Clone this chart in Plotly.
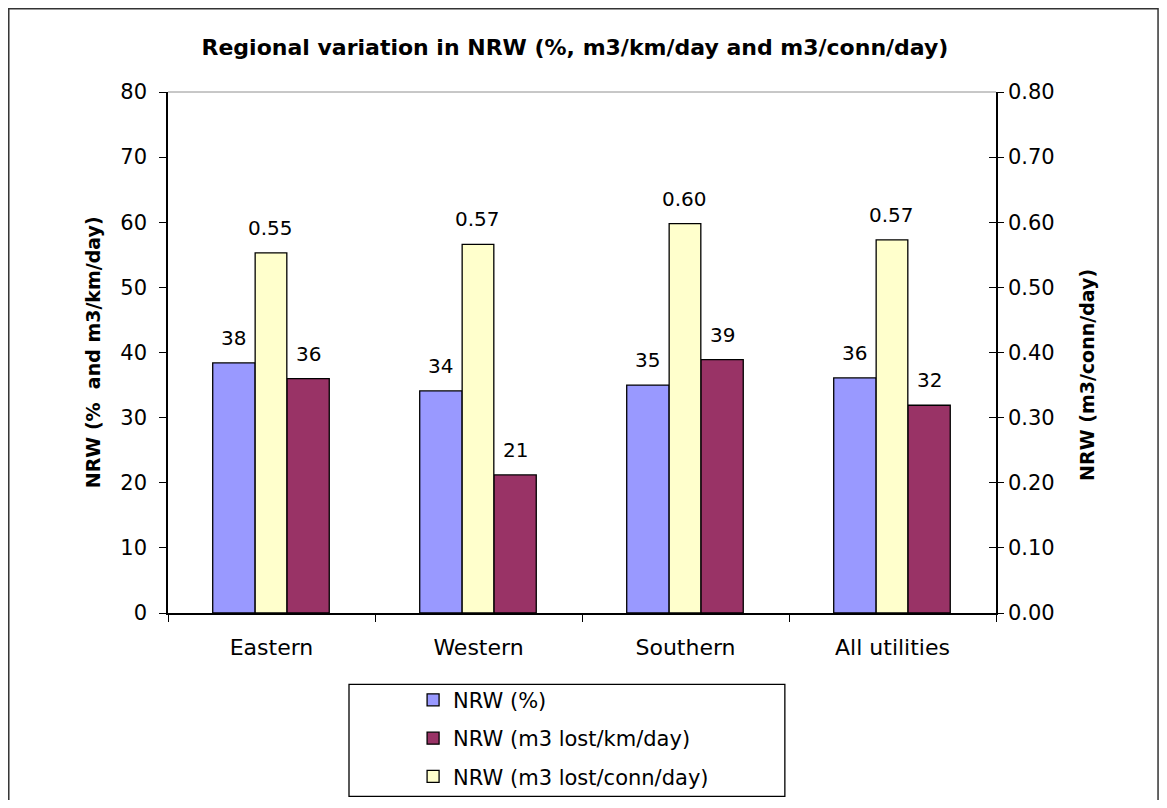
import plotly.graph_objects as go

# Data
regions = ["Eastern", "Western", "Southern", "All utilities"]
nrw_pct = [38.4, 34.1, 35.0, 36.1]          # NRW (%), left axis
nrw_km = [36.0, 21.2, 38.9, 31.9]           # NRW (m3 lost/km/day), left axis
nrw_conn = [0.553, 0.566, 0.598, 0.573]     # NRW (m3 lost/conn/day), right axis

left_ticks = [0, 10, 20, 30, 40, 50, 60, 70, 80]
right_ticks = [0.0, 0.1, 0.2, 0.3, 0.4, 0.5, 0.6, 0.7, 0.8]

BLUE = "#9999FF"
MAROON = "#993366"
YELLOW = "#FFFFCC"
FONT = "DejaVu Sans, Arial, sans-serif"

# bar layout within each category (in category units)
OFF_PCT, W_PCT = -0.284, 0.205
OFF_CONN, W_CONN = -0.079, 0.153
OFF_KM, W_KM = 0.074, 0.205

fig = go.Figure()
fig.add_trace(go.Bar(x=regions, y=nrw_pct, name="NRW (%)", width=W_PCT, offset=OFF_PCT,
                     marker=dict(color=BLUE, line=dict(color="black", width=1.3)),
                     yaxis="y", legendgroup="a"))
fig.add_trace(go.Bar(x=regions, y=nrw_km, name="NRW (m3 lost/km/day)", width=W_KM, offset=OFF_KM,
                     marker=dict(color=MAROON, line=dict(color="black", width=1.3)),
                     yaxis="y", legendgroup="b"))
fig.add_trace(go.Bar(x=regions, y=nrw_conn, name="NRW (m3 lost/conn/day)", width=W_CONN, offset=OFF_CONN,
                     marker=dict(color=YELLOW, line=dict(color="black", width=1.3)),
                     yaxis="y2", legendgroup="c"))

# data labels above the bars
lab_font = dict(size=20, color="black", family=FONT)
ann = []
for i, v in enumerate(nrw_pct):
    ann.append(dict(x=i + OFF_PCT + W_PCT / 2, y=v, yref="y", text=f"{v:.0f}",
                    showarrow=False, yshift=25, font=lab_font))
for i, v in enumerate(nrw_km):
    ann.append(dict(x=i + OFF_KM + W_KM / 2, y=v, yref="y", text=f"{v:.0f}",
                    showarrow=False, yshift=25, font=lab_font))
for i, v in enumerate(nrw_conn):
    ann.append(dict(x=i + OFF_CONN + W_CONN / 2, y=v, yref="y2", text=f"{v:.2f}",
                    showarrow=False, yshift=25, font=lab_font))

# axis titles
ann.append(dict(x=-0.106, y=0.501, xref="paper", yref="paper", text="<b>NRW (%  and m3/km/day)</b>",
                textangle=-90, showarrow=False, font=dict(size=19, color="black", family=FONT)))
ann.append(dict(x=1.1256, y=0.457, xref="paper", yref="paper", text="<b>NRW (m3/conn/day)</b>",
                textangle=-90, showarrow=False, font=dict(size=19, color="black", family=FONT)))

shapes = [
    # outer chart border
    dict(type="rect", xref="paper", yref="paper", x0=-0.1923, x1=1.1957, y0=-0.40, y1=1.160,
         line=dict(color="#333333", width=1.5)),
    # legend box
    dict(type="rect", xref="paper", yref="paper", x0=0.2186, x1=0.745, y0=-0.352, y1=-0.137,
         line=dict(color="black", width=1.3)),
    # gray top line of plot area
    dict(type="line", xref="paper", yref="paper", x0=0, x1=1, y0=1, y1=1,
         line=dict(color="#909090", width=1)),
]

fig.update_layout(
    width=1151, height=792,
    margin=dict(l=160, r=163, t=84, b=187, autoexpand=False),
    paper_bgcolor="white", plot_bgcolor="white",
    font=dict(family=FONT, size=21, color="black"),
    title=dict(text="<b>Regional variation in NRW (%, m3/km/day and m3/conn/day)</b>",
               x=0.4915, xref="paper", y=1 - 39 / 792, yanchor="middle",
               font=dict(size=22, color="black", family=FONT)),
    barmode="overlay",
    showlegend=True,
    legend=dict(x=0.296, y=-0.128, xanchor="left", yanchor="top", orientation="v",
                traceorder="grouped", tracegroupgap=8, bgcolor="rgba(0,0,0,0)",
                font=dict(size=21, color="black", family=FONT)),
    xaxis=dict(type="category", showline=True, linecolor="black", linewidth=1.5,
               ticks="outside", tickson="boundaries", ticklen=7, tickcolor="black",
               ticklabelstandoff=14, showgrid=False, range=[-0.5, 3.5],
               tickfont=dict(size=22)),
    yaxis=dict(range=[0, 80], tickvals=left_ticks, showline=True, linecolor="black", linewidth=1.5,
               ticks="outside", ticklen=7, tickcolor="black", showgrid=False, zeroline=False,
               ticklabelstandoff=8),
    yaxis2=dict(range=[0, 0.8], tickvals=right_ticks, tickformat=".2f", overlaying="y", side="right",
                showline=True, linecolor="black", linewidth=1.5, ticks="outside", ticklen=6,
                tickcolor="black", showgrid=False, zeroline=False, ticklabelstandoff=0),
    yaxis3=dict(range=[0, 0.8], tickvals=right_ticks, overlaying="y", side="right", anchor="x",
                showticklabels=False, ticks="inside", ticklen=7, tickcolor="black",
                showgrid=False, zeroline=False, showline=False),
    annotations=ann,
    shapes=shapes,
)

# invisible trace so the inside ticks of the right axis are drawn
fig.add_trace(go.Scatter(x=[regions[0]], y=[0], yaxis="y3", mode="markers",
                         marker=dict(opacity=0), showlegend=False, hoverinfo="skip"))

fig.write_html("out.html")
